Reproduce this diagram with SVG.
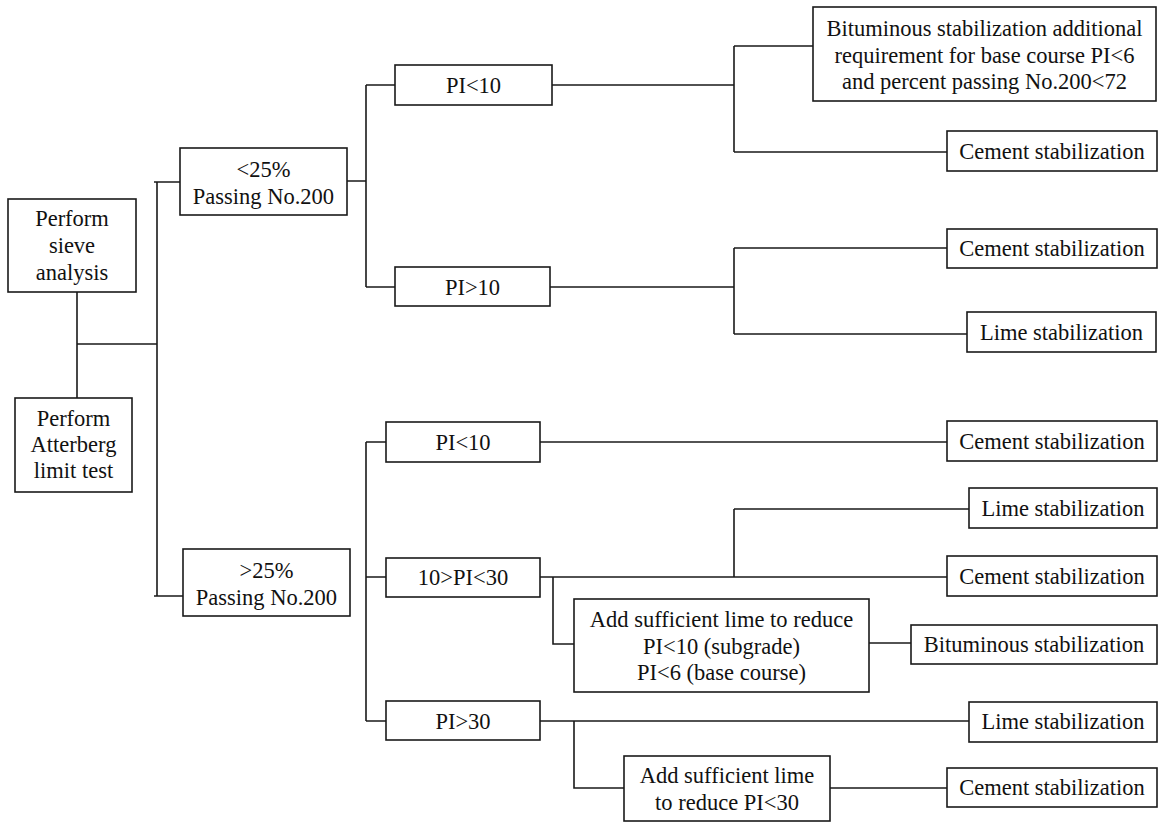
<svg xmlns="http://www.w3.org/2000/svg" width="1158" height="823" viewBox="0 0 1158 823">
<style>
rect{fill:#fff;stroke:#1a1a1a;stroke-width:1.6}
text{font-family:"Liberation Serif","Times New Roman",serif;font-size:22.5px;fill:#111;text-anchor:middle}
#connectors path{fill:none;stroke:#1a1a1a;stroke-width:1.6}
</style>
<rect x="0" y="0" width="1158" height="823" style="stroke:none"/>
<g id="connectors">
<path d="M77 292V398M77 344H157"/>
<path d="M157 182V596M154 182H180M154 596H183"/>
<path d="M347 181H366M366 85V287M366 85H395M366 287H395"/>
<path d="M552 85H734M734 46V152M734 46H813M734 152H947"/>
<path d="M550 287H734M734 248V334M734 248H947M734 334H967"/>
<path d="M366 442V721M366 442H386M366 577H386M366 721H386"/>
<path d="M540 442H947"/>
<path d="M540 577H947M734 509V577M734 509H969M553 577V644H574"/>
<path d="M869 643H911"/>
<path d="M540 721H969M574 721V788H624M830 788H947"/>
</g>
<g id="sieve"><rect x="8" y="199" width="128" height="93"/><text x="72" y="226">Perform</text><text x="72" y="253">sieve</text><text x="72" y="280">analysis</text></g>
<g id="atterberg"><rect x="15" y="398" width="117" height="94"/><text x="73.5" y="426">Perform</text><text x="73.5" y="452">Atterberg</text><text x="73.5" y="478">limit test</text></g>
<g id="lt25"><rect x="180" y="148" width="167" height="67"/><text x="263.5" y="177">&lt;25%</text><text x="263.5" y="204">Passing No.200</text></g>
<g id="gt25"><rect x="183" y="549" width="167" height="67"/><text x="266.5" y="578">&gt;25%</text><text x="266.5" y="605">Passing No.200</text></g>
<g id="a_pi_lt10"><rect x="395" y="65" width="157" height="40"/><text x="473.5" y="93">PI&lt;10</text></g>
<g id="a_pi_gt10"><rect x="395" y="267" width="155" height="39"/><text x="472.5" y="295">PI&gt;10</text></g>
<g id="bitum_req"><rect x="813" y="7" width="343" height="94"/><text x="984.5" y="36">Bituminous stabilization additional</text><text x="984.5" y="63">requirement for base course PI&lt;6</text><text x="984.5" y="89">and percent passing No.200&lt;72</text></g>
<g id="cement1"><rect x="947" y="131" width="210" height="40"/><text x="1052" y="159">Cement stabilization</text></g>
<g id="cement2"><rect x="947" y="229" width="210" height="39"/><text x="1052" y="256">Cement stabilization</text></g>
<g id="lime1"><rect x="967" y="312" width="189" height="40"/><text x="1061.5" y="340">Lime stabilization</text></g>
<g id="b_pi_lt10"><rect x="386" y="422" width="154" height="40"/><text x="463" y="450">PI&lt;10</text></g>
<g id="b_pi_mid"><rect x="386" y="558" width="154" height="39"/><text x="463" y="585">10&gt;PI&lt;30</text></g>
<g id="b_pi_gt30"><rect x="386" y="701" width="154" height="39"/><text x="463" y="729">PI&gt;30</text></g>
<g id="cement3"><rect x="947" y="421" width="210" height="40"/><text x="1052" y="449">Cement stabilization</text></g>
<g id="lime2"><rect x="969" y="488" width="188" height="40"/><text x="1063" y="516">Lime stabilization</text></g>
<g id="cement4"><rect x="947" y="556" width="210" height="40"/><text x="1052" y="584">Cement stabilization</text></g>
<g id="addlime1"><rect x="574" y="599" width="295" height="93"/><text x="721.5" y="627">Add sufficient lime to reduce</text><text x="721.5" y="654">PI&lt;10 (subgrade)</text><text x="721.5" y="680">PI&lt;6 (base course)</text></g>
<g id="bitum"><rect x="911" y="625" width="246" height="39"/><text x="1034" y="652">Bituminous stabilization</text></g>
<g id="lime3"><rect x="969" y="702" width="188" height="40"/><text x="1063" y="729">Lime stabilization</text></g>
<g id="addlime2"><rect x="624" y="756" width="206" height="65"/><text x="727" y="783">Add sufficient lime</text><text x="727" y="810">to reduce PI&lt;30</text></g>
<g id="cement5"><rect x="947" y="768" width="210" height="39"/><text x="1052" y="795">Cement stabilization</text></g>
</svg>
